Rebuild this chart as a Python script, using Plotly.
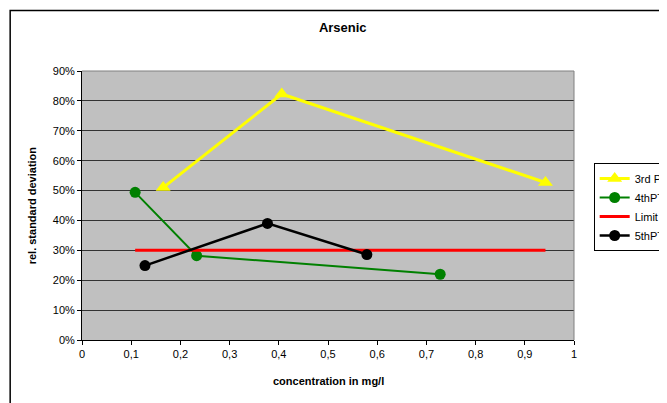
import plotly.graph_objects as go

# data
pt3_x = [0.165, 0.406, 0.942]
pt3_y = [0.51, 0.823, 0.527]

pt4_x = [0.108, 0.233, 0.728]
pt4_y = [0.494, 0.282, 0.220]

limit_x = [0.108, 0.942]
limit_y = [0.30, 0.30]

pt5_x = [0.128, 0.377, 0.579]
pt5_y = [0.249, 0.390, 0.286]

font = "Liberation Sans, Arial, sans-serif"

fig = go.Figure()

fig.add_trace(go.Scatter(
    x=pt3_x, y=pt3_y, name="3rd PT", mode="lines+markers",
    line=dict(color="#FFFF00", width=3),
    marker=dict(symbol="triangle-up", size=13, color="#FFFF00"),
))
fig.add_trace(go.Scatter(
    x=pt4_x, y=pt4_y, name="4thPT", mode="lines+markers",
    line=dict(color="#008000", width=2),
    marker=dict(symbol="circle", size=11, color="#008000"),
))
fig.add_trace(go.Scatter(
    x=limit_x, y=limit_y, name="Limit", mode="lines",
    line=dict(color="#FF0000", width=3),
))
fig.add_trace(go.Scatter(
    x=pt5_x, y=pt5_y, name="5thPT", mode="lines+markers",
    line=dict(color="#000000", width=2.5),
    marker=dict(symbol="circle", size=11, color="#000000"),
))

# page body has an 8px margin, so the figure is sized to end at the window edge
fig.update_layout(
    width=659, height=395,
    margin=dict(l=74, r=93, t=63, b=63, autoexpand=False),
    paper_bgcolor="white",
    plot_bgcolor="#C0C0C0",
    separators=",.",
    font=dict(family=font, size=11, color="black"),
    title=dict(text="<b>Arsenic</b>", x=0.53, xref="paper", xanchor="center",
               y=0.952, yanchor="middle", font=dict(size=13, family=font)),
    showlegend=True,
    legend=dict(x=1.04, y=0.658, xanchor="left", yanchor="top",
                bordercolor="black", borderwidth=1, bgcolor="white",
                font=dict(size=11, family=font), tracegroupgap=0,
                itemwidth=30),
    xaxis=dict(range=[0, 1], dtick=0.1, tick0=0, showgrid=False, zeroline=False,
               showline=True, linecolor="black", linewidth=1,
               ticks="outside", ticklen=4, tickcolor="black",
               automargin=False, fixedrange=True),
    yaxis=dict(range=[0, 0.9], dtick=0.1, tickformat=".0%", showgrid=True,
               gridcolor="#333333", gridwidth=1, zeroline=False,
               showline=True, linecolor="black", linewidth=1,
               ticks="outside", ticklen=4, tickcolor="black",
               automargin=False, fixedrange=True),
    annotations=[
        dict(text="<b>rel. standard deviation</b>", xref="paper", yref="paper",
             x=-0.102, y=0.5, textangle=-90, showarrow=False,
             xanchor="center", yanchor="middle", font=dict(size=11, family=font)),
        dict(text="<b>concentration in mg/l</b>", xref="paper", yref="paper",
             x=0.5, y=-0.153, showarrow=False,
             xanchor="center", yanchor="middle", font=dict(size=11, family=font)),
    ],
    shapes=[
        # gray border on top and right of plot area
        dict(type="line", xref="paper", yref="paper", x0=0, x1=1, y0=1, y1=1,
             line=dict(color="#808080", width=1)),
        dict(type="line", xref="paper", yref="paper", x0=1, x1=1, y0=0, y1=1,
             line=dict(color="#808080", width=1)),
        # outer chart border
        dict(type="rect", xref="paper", yref="paper", x0=-0.146, x1=1.4,
             y0=-0.4, y1=1.225, line=dict(color="black", width=1.5),
             layer="below"),
    ],
)

fig.write_html("out.html")
